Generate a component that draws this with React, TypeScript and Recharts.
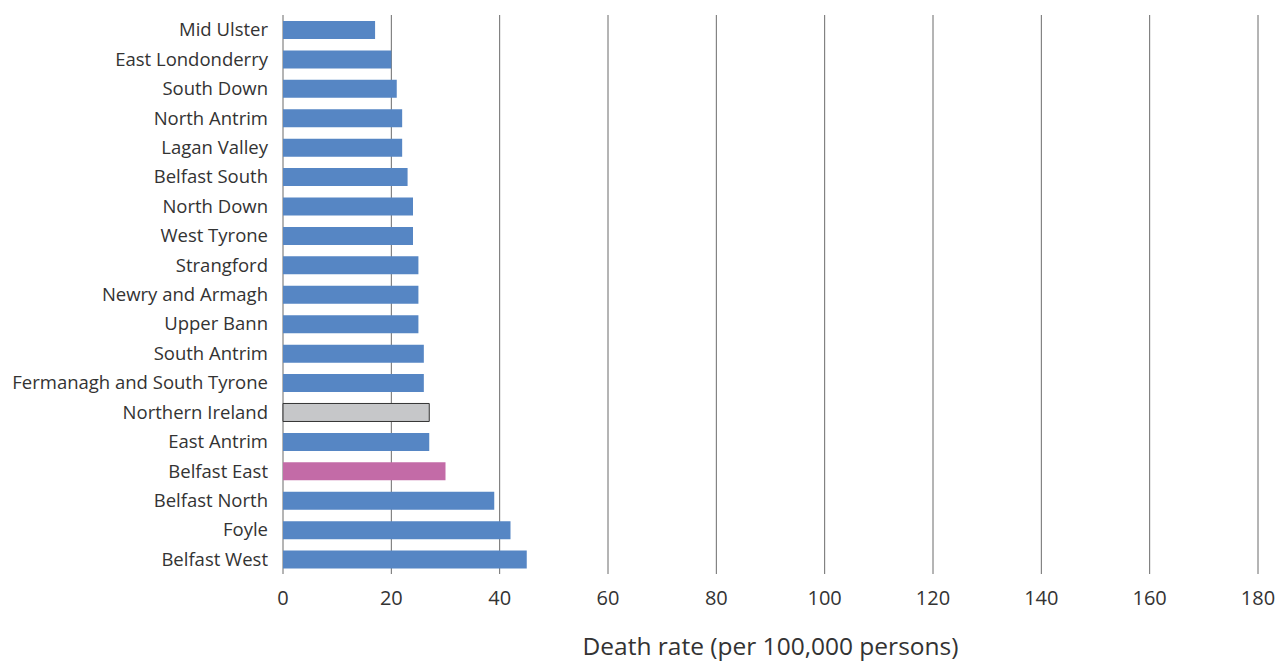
import { BarChart, Bar, XAxis, YAxis, CartesianGrid, Cell, Label } from 'recharts';

const constituencies = [
  'Mid Ulster',
  'East Londonderry',
  'South Down',
  'North Antrim',
  'Lagan Valley',
  'Belfast South',
  'North Down',
  'West Tyrone',
  'Strangford',
  'Newry and Armagh',
  'Upper Bann',
  'South Antrim',
  'Fermanagh and South Tyrone',
  'Northern Ireland',
  'East Antrim',
  'Belfast East',
  'Belfast North',
  'Foyle',
  'Belfast West',
];

const deathRates = [17, 20, 21, 22, 22, 23, 24, 24, 25, 25, 25, 26, 26, 27, 27, 30, 39, 42, 45];

const xTicks = [0, 20, 40, 60, 80, 100, 120, 140, 160, 180];

const FONT = '"Open Sans", "Liberation Sans", sans-serif';
const BLUE = '#5686c4';
const PINK = '#c36ba7';
const GREY = '#c6c7c9';

const chartData = constituencies.map((name, i) => ({ name, rate: deathRates[i] }));

// bar fill by name: the NI average in grey, Belfast East highlighted
const barFill = (name: string) => {
  if (name === 'Northern Ireland') return GREY;
  if (name === 'Belfast East') return PINK;
  return BLUE;
};

export default function App() {
  return (
    <div style={{ position: 'absolute', left: 0, top: 0, background: '#fff' }}>
      <BarChart
        width={1277}
        height={662}
        data={chartData}
        layout="vertical"
        margin={{ top: 15, right: 19, bottom: 0, left: 0 }}
      >
        <CartesianGrid horizontal={false} stroke="#6b6b6b" />
        <XAxis
          type="number"
          domain={[0, 180]}
          ticks={xTicks}
          axisLine={false}
          tickLine={false}
          tickSize={0}
          tickMargin={17}
          height={88}
          tick={{ fontSize: 20, fill: '#333', fontFamily: FONT }}
        >
          <Label
            value="Death rate (per 100,000 persons)"
            position="insideBottom"
            offset={7}
            style={{ fontSize: 24.5, fill: '#333', fontFamily: FONT }}
          />
        </XAxis>
        <YAxis
          type="category"
          dataKey="name"
          width={283}
          axisLine={false}
          tickLine={false}
          tickSize={0}
          tickMargin={15}
          interval={0}
          tick={{ fontSize: 18.5, fill: '#333', fontFamily: FONT }}
        />
        <Bar dataKey="rate" barSize={18} isAnimationActive={false}>
          {chartData.map((d) => (
            <Cell
              key={d.name}
              fill={barFill(d.name)}
              stroke={d.name === 'Northern Ireland' ? '#333' : 'none'}
              strokeWidth={1}
            />
          ))}
        </Bar>
      </BarChart>
    </div>
  );
}
